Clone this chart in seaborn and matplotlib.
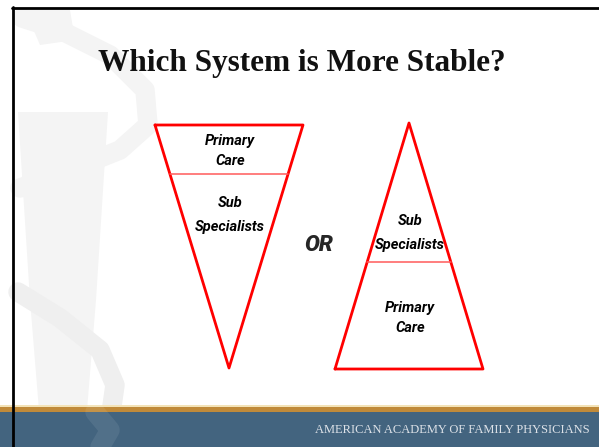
import matplotlib
matplotlib.use("Agg")
import matplotlib.pyplot as plt
import seaborn as sns
import pandas as pd
from matplotlib.patches import Polygon, Rectangle

# content of the slide
title = "Which System is More Stable?"
footer = "AMERICAN ACADEMY OF FAMILY PHYSICIANS"
separator = "OR"

# the two systems: band labels from top to bottom
inverted_tiers = ["Primary\nCare", "Sub\nSpecialists"]
upright_tiers = ["Sub\nSpecialists", "Primary\nCare"]
# share of the height taken by the top band
inverted_top_share = 0.20
upright_top_share = 0.565

sns.set_theme(style="white")
plt.rcParams["font.family"] = ["Liberation Serif", "DejaVu Serif"]
label_font = ["Roboto", "Liberation Sans"]
# the slide has looser spacing in the "Sub / Specialists" label
line_gap = {"Primary\nCare": 1.55, "Sub\nSpecialists": 1.9}

W, H = 599, 447
fig = plt.figure(figsize=(W / 100, H / 100), dpi=100)
ax = fig.add_axes([0, 0, 1, 1])
ax.set_xlim(0, W)
ax.set_ylim(H, 0)
ax.axis("off")

# faint caduceus watermark on the left
wm = "#f4f4f4"
ax.add_patch(Polygon([(18, 112), (108, 112), (96, 300), (84, 447), (42, 447), (30, 300)],
                     closed=True, color=wm, lw=0, zorder=1))
ax.plot([22, 60, 110, 145, 148, 120, 70, 20], [18, 30, 55, 90, 125, 150, 170, 188],
        color=wm, lw=14, solid_capstyle="round", zorder=1)
ax.plot([18, 60, 100, 115, 110, 95], [292, 318, 350, 385, 420, 447],
        color="#efefef", lw=14, solid_capstyle="round", zorder=1)
ax.add_patch(Polygon([(25, 10), (70, 10), (75, 40), (40, 45)], closed=True, color=wm, lw=0, zorder=1))

# footer band
ax.add_patch(Rectangle((0, 405), W, 3, color="#f3e3b8", lw=0, zorder=2))
ax.add_patch(Rectangle((0, 407), W, 5, color="#c08a3a", lw=0, zorder=2))
ax.add_patch(Rectangle((0, 412), W, H - 412, color="#43647f", lw=0, zorder=2))
ax.plot([95, 110, 100], [412, 430, 447], color="white", alpha=0.08, lw=14, zorder=3)
ax.text(590, 430, footer, ha="right", va="center", fontsize=9,
        color="#dde2e8", zorder=4)

# slide frame
ax.plot([12, W], [8, 8], color="black", lw=2, zorder=5)
ax.plot([13, 13], [7, H], color="black", lw=2, zorder=5)

ax.text(302, 63, title, ha="center", va="center", fontsize=22.5, fontweight="bold",
        color="#111111", zorder=4)


def draw_pyramid(tiers, top_share, apex, base_y, half_width, label_y):
    ax_, ay = apex
    xl, xr = ax_ - half_width, ax_ + half_width
    outline = pd.DataFrame({"x": [xl, xr, ax_, xl], "y": [base_y, base_y, ay, base_y]})
    sns.lineplot(data=outline, x="x", y="y", sort=False, estimator=None,
                 color="red", lw=2, ax=ax, zorder=6)
    top, bottom = min(ay, base_y), max(ay, base_y)
    dy = top + (bottom - top) * top_share
    frac = abs(dy - ay) / abs(base_y - ay)
    div = pd.DataFrame({"x": [ax_ - half_width * frac, ax_ + half_width * frac], "y": [dy, dy]})
    sns.lineplot(data=div, x="x", y="y", sort=False, estimator=None,
                 color="#ff5a5a", lw=1.1, ax=ax, zorder=6)
    for label, ly in zip(tiers, label_y):
        ax.text(ax_ + 1, ly, label, ha="center", va="center", fontsize=10.5,
                fontweight="bold", style="italic", linespacing=line_gap[label],
                family=label_font, color="black", zorder=7)


# inverted: flat top, apex at the bottom
draw_pyramid(inverted_tiers, inverted_top_share, (229, 368), 125, 74, [151, 215])
# upright: apex on top, flat base
draw_pyramid(upright_tiers, upright_top_share, (409, 123), 369, 74, [233, 318])

ax.text(319, 245, separator, ha="center", va="center", fontsize=16, fontweight="black",
        style="italic", family=label_font, zorder=7)

ax.set_xlabel("")
ax.set_ylabel("")
ax.set_xlim(0, W)
ax.set_ylim(H, 0)
ax.axis("off")
fig.savefig("out.png", dpi=100)
